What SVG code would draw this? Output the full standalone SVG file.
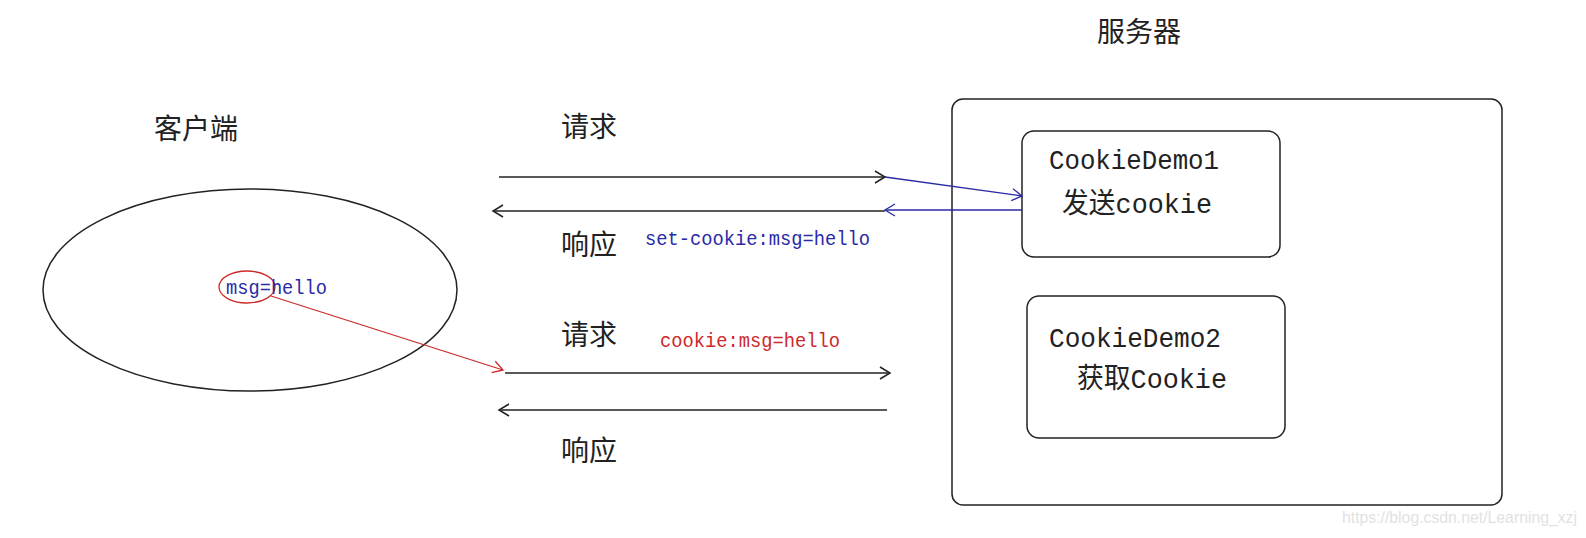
<svg xmlns="http://www.w3.org/2000/svg" width="1586" height="538" viewBox="0 0 1586 538">
<style>
.cjk{font-family:"Noto Sans CJK SC",sans-serif;font-size:28px;fill:#222}
.mono{font-family:"Liberation Mono","Noto Sans CJK SC",monospace;fill:#222}
.box{fill:none;stroke:#222;stroke-width:1.5}
.blk{stroke:#222;stroke-width:1.5;fill:none}
.blu{stroke:#2a2aa8;stroke-width:1.3;fill:none}
.red{stroke:#cc2a2a;stroke-width:1.3;fill:none}
</style>
<defs>
<marker id="ab" markerUnits="userSpaceOnUse" markerWidth="14" markerHeight="14" viewBox="0 0 14 14" refX="12" refY="7" orient="auto"><path d="M2,1 L12,7 L2,13" fill="none" stroke="#222" stroke-width="1.5"/></marker>
<marker id="au" markerUnits="userSpaceOnUse" markerWidth="14" markerHeight="14" viewBox="0 0 14 14" refX="12" refY="7" orient="auto"><path d="M2,1 L12,7 L2,13" fill="none" stroke="#2a2aa8" stroke-width="1.3"/></marker>
<marker id="ar" markerUnits="userSpaceOnUse" markerWidth="14" markerHeight="14" viewBox="0 0 14 14" refX="12" refY="7" orient="auto"><path d="M2,1 L12,7 L2,13" fill="none" stroke="#cc2a2a" stroke-width="1.3"/></marker>
</defs>
<rect width="1586" height="538" fill="#fff"/>

<g id="client">
<ellipse cx="250" cy="290" rx="207" ry="101" class="box"/>
<text x="154" y="139" class="cjk">客户端</text>
<ellipse cx="247" cy="287" rx="28" ry="16" class="red"/>
<text x="226" y="294" class="mono" font-size="20" fill="#2a2aa8" style="fill:#2a2aa8" textLength="101" lengthAdjust="spacingAndGlyphs">msg=hello</text>
</g>

<g id="server">
<text x="1097" y="42" class="cjk">服务器</text>
<rect x="952" y="99" width="550" height="406" rx="11" class="box"/>
</g>

<g id="demo1">
<rect x="1022" y="131" width="258" height="126" rx="12" class="box"/>
<text x="1049" y="169" class="mono" font-size="28" textLength="170" lengthAdjust="spacingAndGlyphs">CookieDemo1</text>
<text x="1062" y="213" class="mono" font-size="28" textLength="150" lengthAdjust="spacingAndGlyphs">发送cookie</text>
</g>

<g id="demo2">
<rect x="1027" y="296" width="258" height="142" rx="12" class="box"/>
<text x="1049" y="347" class="mono" font-size="28" textLength="172" lengthAdjust="spacingAndGlyphs">CookieDemo2</text>
<text x="1077" y="388" class="mono" font-size="28" textLength="150" lengthAdjust="spacingAndGlyphs">获取Cookie</text>
</g>

<g id="labels">
<text x="561" y="137" class="cjk">请求</text>
<text x="561" y="255" class="cjk">响应</text>
<text x="561" y="345" class="cjk">请求</text>
<text x="561" y="461" class="cjk">响应</text>
<text x="645" y="245" class="mono" font-size="20" style="fill:#2a2aa8" textLength="225" lengthAdjust="spacingAndGlyphs">set-cookie:msg=hello</text>
<text x="660" y="347" class="mono" font-size="20" style="fill:#cc2a2a" textLength="180" lengthAdjust="spacingAndGlyphs">cookie:msg=hello</text>
</g>

<g id="connectors">
<line x1="499" y1="177" x2="885" y2="177" class="blk" marker-end="url(#ab)"/>
<line x1="885" y1="211" x2="493" y2="211" class="blk" marker-end="url(#ab)"/>
<line x1="885" y1="177" x2="1022" y2="196" class="blu" marker-end="url(#au)"/>
<line x1="1022" y1="210" x2="885" y2="210" class="blu" marker-end="url(#au)"/>
<line x1="271" y1="296" x2="503" y2="370" class="red" marker-end="url(#ar)"/>
<line x1="505" y1="373" x2="890" y2="373" class="blk" marker-end="url(#ab)"/>
<line x1="887" y1="410" x2="499" y2="410" class="blk" marker-end="url(#ab)"/>
</g>

<text x="1342" y="523" font-family="Liberation Sans,sans-serif" font-size="16" fill="#e2e2e2" textLength="235" lengthAdjust="spacingAndGlyphs">https://blog.csdn.net/Learning_xzj</text>
</svg>
